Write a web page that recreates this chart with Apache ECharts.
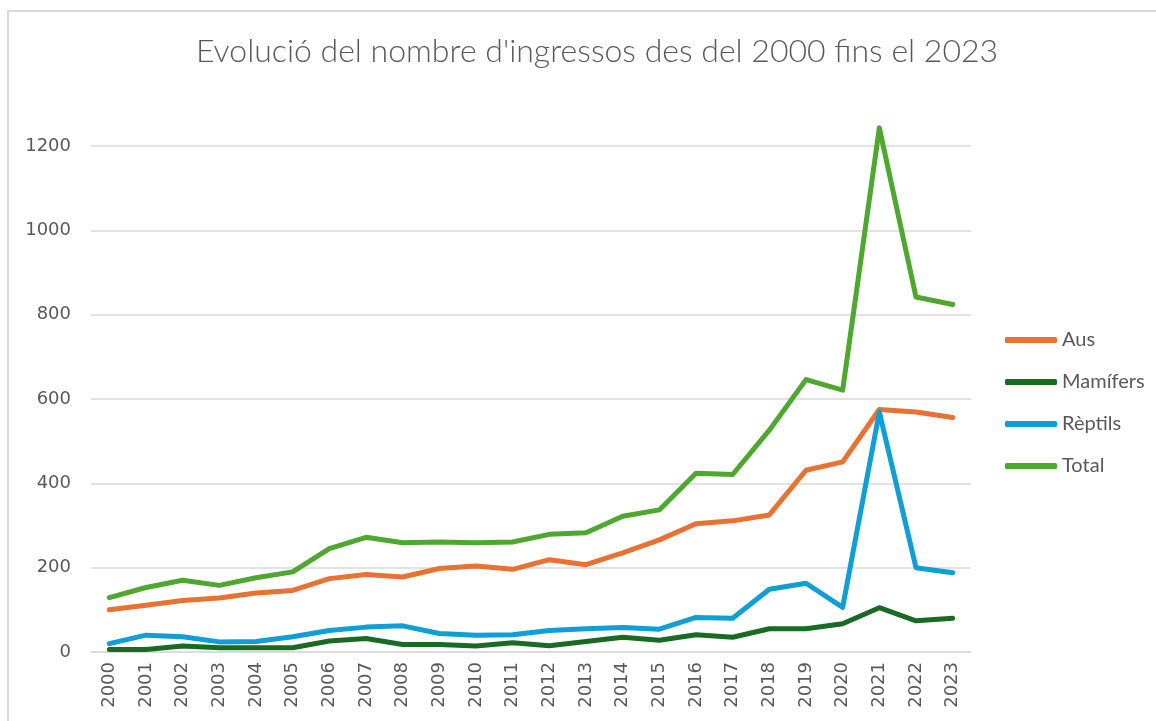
<!DOCTYPE html>
<html>
<head>
<meta charset="utf-8">
<script src="https://cdn.jsdelivr.net/npm/echarts@6/dist/echarts.min.js"></script>
<style>
  html, body { margin: 0; padding: 0; background: #fff; }
  #frame { position: absolute; left: 7px; top: 10px; right: -2px; bottom: -2px;
           border-left: 2px solid #d9d9d9; border-top: 2px solid #d9d9d9; }
  #chart { position: absolute; left: 0; top: 0; width: 1156px; height: 721px; }
</style>
</head>
<body>
<div id="frame"></div>
<div id="chart"></div>
<script>
// anys
const years = ['2000', '2001', '2002', '2003', '2004', '2005', '2006', '2007', '2008', '2009', '2010', '2011',
  '2012', '2013', '2014', '2015', '2016', '2017', '2018', '2019', '2020', '2021', '2022', '2023']
// ingressos per grup
const aus = [100, 111, 122, 128, 140, 146, 174, 184, 178, 198, 204, 196, 219, 207, 235, 266, 304, 311, 325, 431, 451, 575, 569, 556]
const mamifers = [6, 6, 14, 10, 10, 10, 26, 32, 18, 18, 14, 22, 15, 25, 35, 28, 41, 35, 55, 55, 67, 105, 74, 80]
const reptils = [20, 40, 36, 24, 25, 36, 51, 59, 62, 44, 40, 41, 51, 55, 58, 54, 82, 80, 149, 163, 106, 569, 200, 188]
const total = [129, 153, 170, 158, 176, 190, 245, 272, 259, 261, 259, 261, 279, 283, 322, 337, 424, 421, 526, 646, 621, 1243, 842, 824]
const yTicks = [0, 200, 400, 600, 800, 1000, 1200]

const txt = '#595959'
const gridCol = '#d9d9d9'

function line (name, data, color) {
  return {
    name: name,
    type: 'line',
    data: data,
    showSymbol: false,
    symbol: 'none',
    clip: false,
    lineStyle: { width: 5, color: color, cap: 'round', join: 'round' },
    itemStyle: { color: color }
  }
}

const chart = echarts.init(document.getElementById('chart'), null, { renderer: 'canvas' })
chart.setOption({
  animation: false,
  backgroundColor: 'transparent',
  title: {
    text: "Evolució del nombre d'ingressos des del 2000 fins el 2023",
    left: 191,
    top: 31,
    textStyle: { fontFamily: 'Lato', fontWeight: 300, fontSize: 32, color: txt }
  },
  grid: { left: 91, right: 185, top: 146, bottom: 69 },
  legend: {
    orient: 'vertical',
    left: 1005,
    top: 330,
    padding: 0,
    itemWidth: 52,
    itemHeight: 6,
    itemGap: 22,
    icon: 'roundRect',
    data: ['Aus', 'Mamífers', 'Rèptils', 'Total'],
    textStyle: { fontFamily: 'Lato', fontSize: 20, color: txt }
  },
  xAxis: {
    type: 'category',
    data: years,
    boundaryGap: true,
    axisTick: { show: false },
    axisLine: { lineStyle: { color: gridCol, width: 1.5 } },
    axisLabel: { rotate: 90, margin: 10, interval: 0, color: txt, fontFamily: 'DejaVu Sans', fontSize: 18 }
  },
  yAxis: {
    type: 'value',
    min: yTicks[0],
    max: yTicks[yTicks.length - 1],
    interval: 200,
    axisLine: { show: false },
    axisTick: { show: false },
    splitLine: { lineStyle: { color: gridCol, width: 1.5 } },
    axisLabel: { margin: 20, color: txt, fontFamily: 'DejaVu Sans', fontSize: 18, formatter: v => String(v) }
  },
  series: [
    line('Aus', aus, '#E97132'),
    line('Mamífers', mamifers, '#196B24'),
    line('Rèptils', reptils, '#0F9ED5'),
    line('Total', total, '#4EA72E')
  ]
})
</script>
</body>
</html>
